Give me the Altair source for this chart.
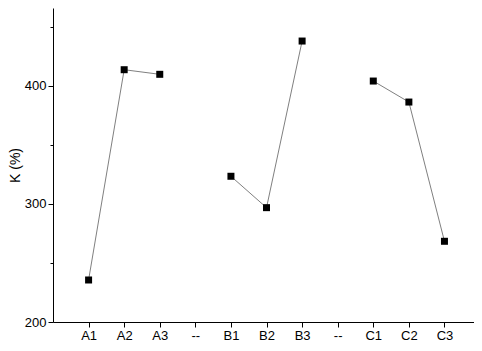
import altair as alt
import pandas as pd

categories = ["A1", "A2", "A3", "B1", "B2", "B3", "C1", "C2", "C3"]
positions = [1, 2, 3, 5, 6, 7, 9, 10, 11]
groups = ["A", "A", "A", "B", "B", "B", "C", "C", "C"]
k_values = [235.6, 413.8, 409.9, 323.5, 296.9, 438.1, 404.2, 386.4, 268.4]
tick_labels = ["A1", "A2", "A3", "--", "B1", "B2", "B3", "--", "C1", "C2", "C3"]

df = pd.DataFrame({"cat": categories, "pos": positions, "group": groups, "k": k_values})

label_expr = "[" + ",".join(f"'{t}'" for t in tick_labels) + "][datum.value - 1]"

FONT = "Liberation Sans"

x = alt.X(
    "pos:Q",
    scale=alt.Scale(domain=[0, 11.83], nice=False, zero=False),
    axis=alt.Axis(
        values=list(range(1, 12)),
        labelExpr=label_expr,
        title=None,
        grid=False,
        tickSize=5,
        labelPadding=2,
        labelFontSize=13,
        labelFont=FONT,
        labelColor="black",
        tickColor="black",
        domainColor="black",
    ),
)
y = alt.Y(
    "k:Q",
    scale=alt.Scale(domain=[200, 466.1], nice=False, zero=False),
    axis=alt.Axis(
        values=[200, 250, 300, 350, 400, 450],
        labelExpr="datum.value % 100 == 0 ? datum.label : ''",
        tickSize=alt.ExprRef(expr="datum.value % 100 == 0 ? 5 : 3"),
        title="K (%)",
        titleFont=FONT,
        titleFontSize=14,
        titleFontWeight="normal",
        titleColor="black",
        titlePadding=2,
        grid=False,
        labelPadding=2,
        labelFontSize=13,
        labelFont=FONT,
        labelColor="black",
        tickColor="black",
        domainColor="black",
    ),
)

lines = alt.Chart(df).mark_line(color="#808080", strokeWidth=1).encode(
    x=x, y=y, detail="group:N"
)
points = alt.Chart(df).mark_point(
    shape="square", filled=True, color="black", size=49, opacity=1
).encode(x=x, y=y)

chart = (
    alt.layer(lines, points)
    .properties(
        width=421,
        height=314,
        autosize=alt.AutoSizeParams(type="none"),
        padding={"left": 45, "top": 0, "right": 0, "bottom": 21},
    )
    .configure_view(stroke=None)
    .configure_axis(domainWidth=1, tickWidth=1)
)

chart.save("out.html", embed_options={"renderer": "svg", "actions": False})
